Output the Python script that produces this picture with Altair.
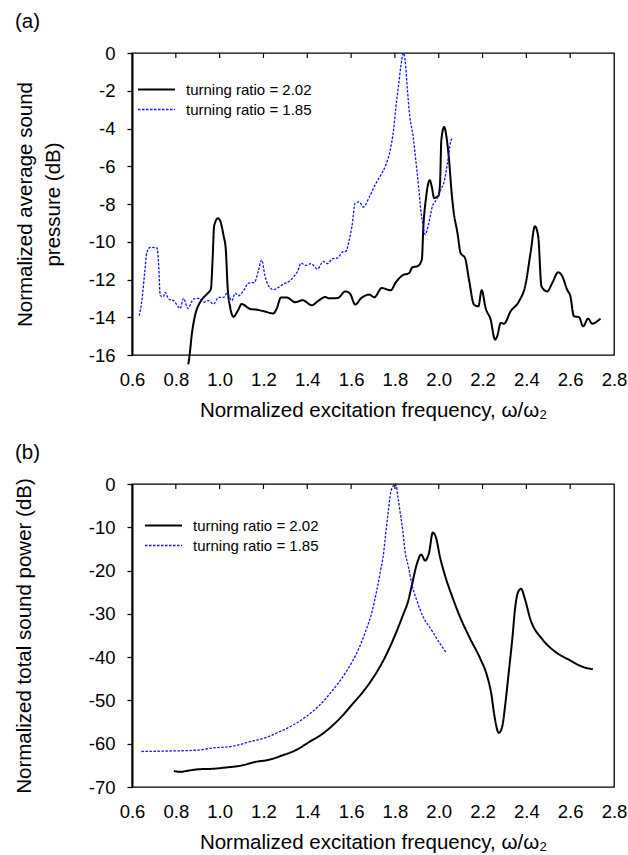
import altair as alt
import pandas as pd

LAB_202 = "turning ratio = 2.02"
LAB_185 = "turning ratio = 1.85"
SERIES = [LAB_202, LAB_185]

# ---------------- panel (a): normalized average sound pressure ----------------
a202_x = [0.857, 0.863, 0.873, 0.888, 0.911, 0.942, 0.960, 0.968, 0.975, 0.992, 1.002, 1.018,
          1.028, 1.037, 1.048, 1.063, 1.083, 1.101, 1.139, 1.170, 1.207, 1.245, 1.260, 1.280,
          1.306, 1.344, 1.379, 1.421, 1.447, 1.482, 1.500, 1.539, 1.574, 1.595, 1.619, 1.645,
          1.683, 1.706, 1.740, 1.781, 1.804, 1.835, 1.865, 1.880, 1.903, 1.923, 1.930, 1.941,
          1.959, 1.968, 1.979, 1.999, 2.006, 2.012, 2.025, 2.035, 2.047, 2.059, 2.068, 2.085,
          2.100, 2.120, 2.138, 2.161, 2.181, 2.196, 2.214, 2.237, 2.257, 2.267, 2.283, 2.298,
          2.328, 2.366, 2.396, 2.419, 2.439, 2.454, 2.469, 2.495, 2.518, 2.545, 2.564, 2.586,
          2.601, 2.617, 2.640, 2.659, 2.682, 2.700, 2.738]
a202_y = [-16.5, -16.0, -14.9, -13.9, -13.2, -12.77, -12.5, -10.9, -9.15, -8.76, -8.88, -9.68,
          -10.4, -12.5, -13.47, -13.97, -13.65, -13.3, -13.56, -13.6, -13.7, -13.8, -13.56, -12.95,
          -12.95, -13.2, -13.1, -13.37, -13.16, -12.93, -13.0, -12.98, -12.63, -12.75, -13.33, -13.0,
          -12.8, -12.94, -12.45, -12.57, -12.15, -11.78, -11.66, -11.35, -11.3, -10.95, -9.18, -7.77,
          -6.74, -7.06, -7.68, -7.56, -6.89, -4.59, -3.92, -4.41, -5.65, -7.42, -8.4, -9.5,
          -10.6, -10.86, -12.0, -13.33, -13.42, -12.57, -13.51, -14.13, -15.19, -15.0, -14.3, -14.34,
          -13.69, -13.16, -12.27, -10.6, -9.18, -9.71, -12.36, -12.63, -12.19, -11.62, -11.83, -12.54,
          -12.89, -13.95, -13.99, -14.48, -14.07, -14.34, -14.07]

a185_x = [0.633, 0.646, 0.658, 0.668, 0.683, 0.714, 0.721, 0.729, 0.744, 0.752, 0.767, 0.790,
          0.820, 0.835, 0.855, 0.881, 0.904, 0.927, 0.949, 0.972, 0.995, 1.018, 1.033, 1.056,
          1.071, 1.086, 1.109, 1.132, 1.159, 1.177, 1.192, 1.207, 1.223, 1.246, 1.268, 1.291,
          1.321, 1.345, 1.356, 1.371, 1.394, 1.417, 1.447, 1.473, 1.493, 1.516, 1.539, 1.561,
          1.576, 1.592, 1.604, 1.619, 1.637, 1.656, 1.683, 1.710, 1.736, 1.759, 1.779, 1.794,
          1.804, 1.816, 1.827, 1.839, 1.847, 1.857, 1.868, 1.883, 1.895, 1.908, 1.918, 1.929,
          1.938, 1.953, 1.971, 1.990, 2.009, 2.025, 2.040, 2.055, 2.062]
a185_y = [-13.92, -13.03, -11.62, -10.56, -10.3, -10.33, -11.09, -12.86, -12.9, -12.68, -13.03, -13.12,
          -13.53, -13.0, -13.53, -13.03, -13.0, -13.21, -13.12, -13.3, -12.95, -12.95, -12.72, -13.12,
          -12.72, -12.86, -12.59, -12.19, -12.15, -11.53, -10.97, -11.8, -12.33, -12.54, -12.42, -12.24,
          -12.06, -11.75, -11.57, -11.13, -11.25, -11.16, -11.44, -11.04, -11.16, -10.9, -10.86, -10.54,
          -10.51, -9.89, -9.18, -7.95, -7.89, -8.16, -7.63, -6.98, -6.45, -5.92, -5.12, -4.06,
          -2.91, -1.77, -0.71, 0.0, -0.44, -1.94, -3.36, -4.41, -5.65, -7.06, -8.3, -9.18,
          -9.62, -9.09, -8.12, -7.77, -7.24, -6.8, -5.83, -4.68, -4.5]

# ---------------- panel (b): normalized total sound power ----------------
b202_x = [0.791, 0.821, 0.859, 0.905, 0.966, 1.027, 1.103, 1.164, 1.226, 1.286, 1.347, 1.409,
          1.470, 1.515, 1.561, 1.607, 1.653, 1.695, 1.747, 1.800, 1.839, 1.859, 1.877, 1.900,
          1.920, 1.938, 1.956, 1.973, 1.987, 2.006, 2.029, 2.060, 2.098, 2.144, 2.190, 2.220,
          2.240, 2.255, 2.274, 2.289, 2.304, 2.319, 2.335, 2.350, 2.362, 2.376, 2.393, 2.418,
          2.472, 2.533, 2.594, 2.655, 2.704]
b202_y = [-66.3, -66.5, -66.2, -65.9, -65.8, -65.5, -65.0, -64.2, -63.7, -62.7, -61.5, -59.6,
          -57.7, -55.8, -53.5, -50.8, -48.1, -45.2, -40.8, -35.0, -30.0, -27.3, -23.5, -18.5,
          -16.3, -17.7, -15.8, -11.2, -12.3, -16.9, -21.2, -25.8, -30.8, -35.8, -40.4, -44.2,
          -48.5, -53.8, -57.5, -56.2, -50.8, -43.8, -36.2, -28.1, -25.0, -24.2, -26.5, -31.2,
          -35.8, -38.8, -40.6, -42.2, -42.8]

b185_x = [0.643, 0.752, 0.897, 0.966, 1.058, 1.134, 1.210, 1.271, 1.332, 1.393, 1.454, 1.515,
          1.576, 1.638, 1.668, 1.694, 1.717, 1.736, 1.747, 1.758, 1.770, 1.781, 1.793, 1.804,
          1.813, 1.823, 1.836, 1.846, 1.862, 1.877, 1.900, 1.930, 1.968, 2.006, 2.032]
b185_y = [-61.8, -61.7, -61.5, -61.0, -60.6, -59.6, -58.6, -57.3, -55.8, -53.8, -51.2, -47.7,
          -43.5, -37.7, -33.8, -29.8, -24.6, -19.6, -16.5, -11.5, -6.2, -1.9, -0.4, 0.0,
          -2.7, -6.2, -10.8, -15.4, -19.2, -23.1, -26.9, -30.8, -33.8, -36.9, -38.8]

# ---------------- tick labels ----------------
x_tick_labels = [0.6, 0.8, 1.0, 1.2, 1.4, 1.6, 1.8, 2.0, 2.2, 2.4, 2.6, 2.8]
x_inner_ticks = [0.8, 1.0, 1.2, 1.4, 1.6, 1.8, 2.0, 2.2, 2.4, 2.6]
a_y_ticks = [0, -2, -4, -6, -8, -10, -12, -14, -16]
b_y_ticks = [0, -10, -20, -30, -40, -50, -60, -70]

X_TITLE = "Normalized excitation frequency, ω/ω₂"
FONT = "Liberation Sans"


def make_df(x202, y202, x185, y185):
    d1 = pd.DataFrame({"x": x202, "y": y202, "series": LAB_202})
    d2 = pd.DataFrame({"x": x185, "y": y185, "series": LAB_185})
    return pd.concat([d1, d2], ignore_index=True)


def panel(df, y_ticks, y_domain, y_title, y_title_pad, label, leg_x, leg_y, w, h):
    leg = alt.Legend(title=None, orient="none", legendX=leg_x, legendY=leg_y,
                     symbolType="stroke", symbolSize=1369, labelFontSize=15,
                     labelOffset=10, rowPadding=4, clipHeight=15, padding=0,
                     labelColor="black")
    lines = alt.Chart(df).mark_line(interpolate="monotone").encode(
        x=alt.X("x:Q",
                scale=alt.Scale(domain=[0.6, 2.8], nice=False, zero=False),
                axis=alt.Axis(values=x_tick_labels, format=".1f", ticks=False, tickSize=0,
                              domain=False, grid=False, labelPadding=15, labelFontSize=18.5,
                              title=X_TITLE, titleFontSize=20.5, titlePadding=12,
                              labelFlush=False)),
        y=alt.Y("y:Q",
                scale=alt.Scale(domain=y_domain, nice=False, zero=False),
                axis=alt.Axis(values=y_ticks, labelExpr="'' + datum.value", tickSize=5,
                              tickWidth=1.3, tickColor="black", domain=True, domainWidth=2,
                              domainColor="black", grid=False, labelPadding=12,
                              labelFontSize=18.5, title=y_title, titleFontSize=20.5,
                              titlePadding=y_title_pad, titleLineHeight=28,
                              labelFlush=False)),
        color=alt.Color("series:N",
                        scale=alt.Scale(domain=SERIES, range=["#000000", "#1010ff"]),
                        legend=leg),
        strokeDash=alt.StrokeDash("series:N",
                                  scale=alt.Scale(domain=SERIES, range=[[1, 0], [2.5, 1.5]]),
                                  legend=leg),
        strokeWidth=alt.StrokeWidth("series:N",
                                    scale=alt.Scale(domain=SERIES, range=[2, 1.3]),
                                    legend=leg),
    )
    tick_df = pd.DataFrame({"x": x_inner_ticks})
    ticks = alt.Chart(tick_df).mark_rule(color="black", strokeWidth=1.2).encode(
        x=alt.X("x:Q"), y=alt.value(0), y2=alt.value(5)
    )
    return alt.layer(lines, ticks).properties(
        width=w, height=h,
        title=alt.TitleParams(label, anchor="start", frame="group", fontSize=20.5,
                              fontWeight="normal", dx=-117, offset=0, dy=4,
                              baseline="alphabetic", color="black"),
    )


df_a = make_df(a202_x, a202_y, a185_x, a185_y)
df_b = make_df(b202_x, b202_y, b185_x, b185_y)

chart_a = panel(df_a, a_y_ticks, [-16, 0], ["Normalized average sound", "pressure (dB)"],
                25, "(a)", 5, 29, 482, 302)
chart_b = panel(df_b, b_y_ticks, [-70, 0], "Normalized total sound power (dB)",
                54, "(b)", 12, 34, 482, 303)

chart = alt.vconcat(chart_a, chart_b, spacing=129, bounds="flush").resolve_scale(
    color="independent", strokeDash="independent", strokeWidth="independent"
).resolve_legend(
    color="independent", strokeDash="independent", strokeWidth="independent"
).properties(
    padding={"left": 13, "top": 10, "right": 0, "bottom": 3}
).configure(font=FONT, background="white").configure_axis(
    labelColor="black", titleColor="black", titleFontWeight="normal", labelFont=FONT,
    titleFont=FONT
).configure_legend(labelFont=FONT).configure_view(
    stroke="black", strokeWidth=1.3
)

chart.save("out.html", embed_options={"renderer": "svg", "actions": False})
